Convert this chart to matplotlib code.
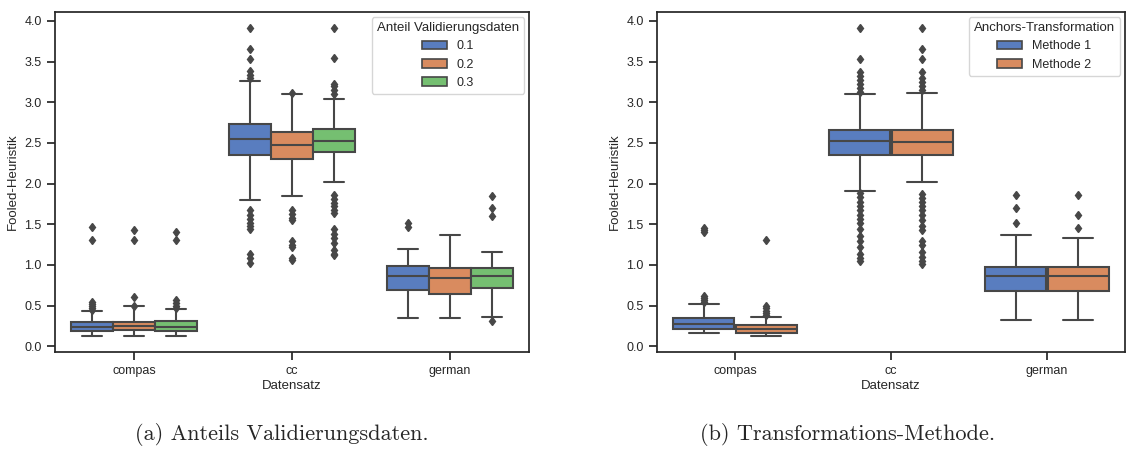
import matplotlib
matplotlib.use("Agg")
import matplotlib.pyplot as plt
import seaborn as sns
from matplotlib.patches import Patch

# Kategorien
datensaetze = ["compas", "cc", "german"]

# (a) Anteil Validierungsdaten: Zeilen = Datensatz, Spalten = Anteil
anteile = ["0.1", "0.2", "0.3"]
a_median = [[0.237, 0.245, 0.237], [2.548, 2.474, 2.528], [0.863, 0.843, 0.863]]
a_q1 = [[0.188, 0.196, 0.188], [2.356, 2.307, 2.384], [0.695, 0.638, 0.716]]
a_q3 = [[0.294, 0.294, 0.307], [2.736, 2.634, 2.667], [0.990, 0.957, 0.965]]
a_whislo = [[0.127, 0.127, 0.127], [1.800, 1.853, 2.020], [0.348, 0.348, 0.360]]
a_whishi = [[0.440, 0.490, 0.454], [3.264, 3.100, 3.035], [1.200, 1.370, 1.157]]
a_fliers = [
    [[0.45, 0.47, 0.50, 0.52, 0.55, 1.31, 1.47],
     [0.50, 0.61, 1.31, 1.43],
     [0.47, 0.50, 0.53, 0.57, 1.31, 1.40]],
    [[3.30, 3.33, 3.38, 3.53, 3.65, 3.91, 1.67, 1.62, 1.57, 1.52, 1.48, 1.44, 1.13, 1.08, 1.02],
     [3.12, 1.67, 1.63, 1.58, 1.55, 1.30, 1.25, 1.22, 1.08, 1.06],
     [3.10, 3.15, 3.20, 3.23, 3.54, 3.91, 1.86, 1.81, 1.76, 1.72, 1.68, 1.64,
      1.44, 1.38, 1.33, 1.27, 1.18, 1.14, 1.12]],
    [[1.47, 1.52],
     [],
     [0.31, 1.60, 1.70, 1.85]],
]

# (b) Anchors-Transformation
methoden = ["Methode 1", "Methode 2"]
b_median = [[0.278, 0.209], [2.524, 2.507], [0.863, 0.863]]
b_q1 = [[0.209, 0.164], [2.356, 2.356], [0.679, 0.679]]
b_q3 = [[0.348, 0.258], [2.663, 2.663], [0.973, 0.973]]
b_whislo = [[0.160, 0.127], [1.914, 2.020], [0.327, 0.327]]
b_whishi = [[0.515, 0.360], [3.100, 3.117], [1.370, 1.330]]
b_fliers = [
    [[0.54, 0.57, 0.60, 0.62, 1.40, 1.43, 1.46],
     [0.38, 0.41, 0.44, 0.47, 0.50, 1.31]],
    [[3.13, 3.18, 3.22, 3.27, 3.32, 3.37, 3.53, 3.91,
      1.88, 1.83, 1.78, 1.73, 1.68, 1.62, 1.57, 1.52, 1.44, 1.36, 1.29, 1.22, 1.14, 1.09, 1.05],
     [3.15, 3.20, 3.25, 3.30, 3.37, 3.53, 3.65, 3.91,
      1.87, 1.82, 1.77, 1.72, 1.67, 1.62, 1.55, 1.48, 1.43, 1.30, 1.25, 1.16, 1.10, 1.05, 1.01]],
    [[1.52, 1.70, 1.86],
     [1.46, 1.61, 1.86]],
]

sns.set_theme(style="ticks")
plt.rcParams["font.family"] = ["Liberation Sans", "DejaVu Sans"]
# seaborn boxplot entsaettigt die Farben (saturation=.75)
farben = [sns.desaturate(c, 0.75) for c in sns.color_palette("muted")]
grau = "#474747"


def boxplot_panel(ax, hues, median, q1, q3, whislo, whishi, fliers, titel):
    n = len(hues)
    breite = 0.8 / n
    for i in range(len(datensaetze)):
        for j in range(n):
            stats = [dict(med=median[i][j], q1=q1[i][j], q3=q3[i][j],
                          whislo=whislo[i][j], whishi=whishi[i][j], fliers=fliers[i][j])]
            pos = i - 0.4 + breite * (j + 0.5)
            ax.bxp(stats, positions=[pos], widths=breite * 0.98, patch_artist=True,
                   manage_ticks=False,
                   boxprops=dict(facecolor=farben[j], edgecolor=grau, linewidth=1.5),
                   medianprops=dict(color=grau, linewidth=1.5),
                   whiskerprops=dict(color=grau, linewidth=1.5),
                   capprops=dict(color=grau, linewidth=1.5),
                   flierprops=dict(marker="d", markerfacecolor=grau, markeredgecolor=grau,
                                   markersize=4.5))
    ax.set_xlim(-0.5, len(datensaetze) - 0.5)
    ax.set_ylim(-0.07, 4.11)
    ax.set_xticks(range(len(datensaetze)))
    ax.set_xticklabels(datensaetze)
    ax.set_yticks([0.0, 0.5, 1.0, 1.5, 2.0, 2.5, 3.0, 3.5, 4.0])
    ax.tick_params(labelsize=9, colors="0.15")
    ax.set_xlabel("Datensatz", fontsize=9.5, labelpad=2)
    ax.set_ylabel("Fooled-Heuristik", fontsize=9.5)
    for s in ax.spines.values():
        s.set_color("0.15")
    handles = [Patch(facecolor=farben[j], edgecolor=grau, linewidth=1.2, label=h)
               for j, h in enumerate(hues)]
    leg = ax.legend(handles=handles, title=titel, loc="upper right", fontsize=9,
                    title_fontsize=9.5, borderaxespad=0.4)
    leg.get_title().set_color("0.15")


fig = plt.figure(figsize=(11.27, 4.5), dpi=100)
ax1 = fig.add_axes([55 / 1127, 98 / 450, 474 / 1127, 340 / 450])
ax2 = fig.add_axes([657 / 1127, 98 / 450, 468 / 1127, 340 / 450])

boxplot_panel(ax1, anteile, a_median, a_q1, a_q3, a_whislo, a_whishi, a_fliers,
              "Anteil Validierungsdaten")
boxplot_panel(ax2, methoden, b_median, b_q1, b_q3, b_whislo, b_whishi, b_fliers,
              "Anchors-Transformation")

fig.text(282 / 1127, 1 - 435 / 450, "(a) Anteils Validierungsdaten.", ha="center", va="center",
         fontsize=16, family=["cmr10", "DejaVu Serif"])
fig.text(848 / 1127, 1 - 435 / 450, "(b) Transformations-Methode.", ha="center", va="center",
         fontsize=16, family=["cmr10", "DejaVu Serif"])

fig.savefig("out.png", dpi=100)
